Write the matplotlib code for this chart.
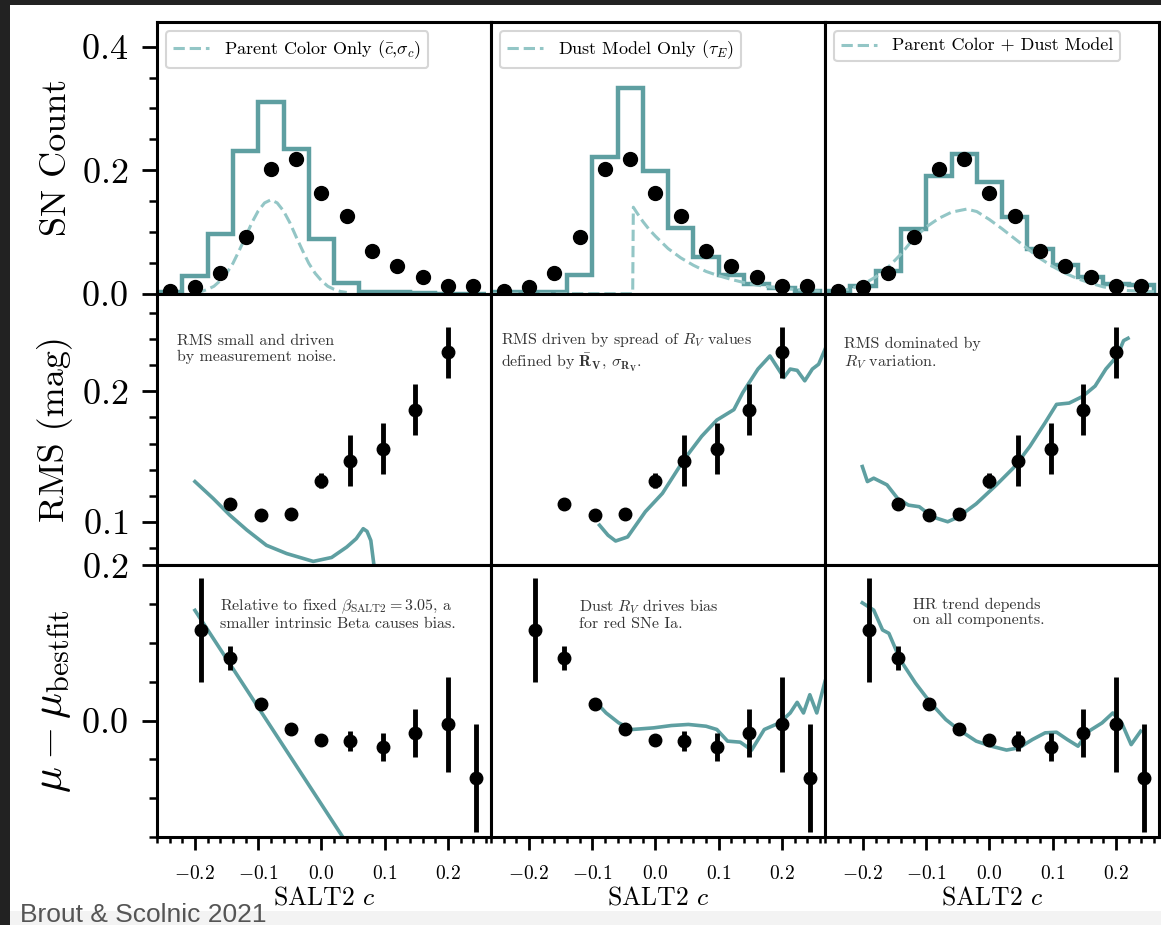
"""
plot.py -- salin ulang figur Brout & Scolnic 2021 (SALT2 c: count / RMS / HR)
3 kolom model x 3 baris panel, data titik sama di tiap kolom.
"""

import matplotlib
matplotlib.use("Agg")
import matplotlib.pyplot as plt
from matplotlib.patches import Rectangle
from matplotlib.ticker import MultipleLocator

plt.rcParams["font.family"] = "serif"
plt.rcParams["font.serif"] = ["cmr10"]
plt.rcParams["mathtext.fontset"] = "cm"
plt.rcParams["axes.formatter.use_mathtext"] = True

TEAL = "#5e9fa1"
TEAL_LIGHT = "#93c6c6"

# ---- baris 1: distribusi warna ----
BIN_EDGES = [-0.26, -0.22, -0.18, -0.14, -0.10, -0.06, -0.02, 0.02, 0.06, 0.10, 0.14, 0.18, 0.22, 0.26]
BIN_C = [-0.24, -0.20, -0.16, -0.12, -0.08, -0.04, 0.0, 0.04, 0.08, 0.12, 0.16, 0.20, 0.24]
COUNT = [0.004, 0.01, 0.034, 0.092, 0.202, 0.218, 0.163, 0.126, 0.069, 0.044, 0.027, 0.012, 0.012]
COUNT_ERR = [0.003, 0.004, 0.005, 0.007, 0.01, 0.01, 0.008, 0.007, 0.006, 0.005, 0.004, 0.003, 0.003]

HIST_PARENT = [0.003, 0.029, 0.097, 0.231, 0.31, 0.235, 0.089, 0.018, 0.003, 0.002, 0.001, 0.0, 0.0]
HIST_DUST = [0.002, 0.002, 0.002, 0.03, 0.222, 0.333, 0.198, 0.106, 0.059, 0.031, 0.016, 0.009, 0.005]
HIST_BOTH = [0.005, 0.012, 0.037, 0.104, 0.19, 0.226, 0.181, 0.124, 0.073, 0.046, 0.027, 0.016, 0.014]

PARENT_X = [-0.20, -0.19, -0.18, -0.17, -0.16, -0.15, -0.14, -0.13, -0.12, -0.11, -0.10, -0.09, -0.08,
            -0.07, -0.06, -0.05, -0.04, -0.03, -0.02, -0.01, 0.00, 0.01, 0.02, 0.03, 0.04]
PARENT_Y = [0.002, 0.0035, 0.007, 0.012, 0.021, 0.033, 0.049, 0.070, 0.092, 0.115, 0.134, 0.147, 0.152,
            0.147, 0.134, 0.115, 0.092, 0.070, 0.049, 0.033, 0.021, 0.012, 0.007, 0.0035, 0.002]

DUST_X = [-0.26, -0.036, -0.035, -0.03, -0.02, -0.01, 0.0, 0.02, 0.04, 0.06, 0.08, 0.10, 0.12,
          0.14, 0.16, 0.18, 0.20, 0.22, 0.24, 0.26]
DUST_Y = [0.0, 0.0, 0.14, 0.132, 0.117, 0.104, 0.093, 0.073, 0.058, 0.046, 0.036, 0.029, 0.023,
          0.018, 0.014, 0.011, 0.009, 0.007, 0.0055, 0.004]

BOTH_X = [-0.24, -0.22, -0.20, -0.18, -0.16, -0.14, -0.12, -0.10, -0.08, -0.06, -0.036, -0.02,
          0.0, 0.02, 0.04, 0.06, 0.08, 0.10, 0.12, 0.14, 0.16, 0.18, 0.20, 0.22, 0.24, 0.26]
BOTH_Y = [0.003, 0.008, 0.015, 0.027, 0.043, 0.064, 0.089, 0.108, 0.122, 0.132, 0.137, 0.133,
          0.12, 0.105, 0.089, 0.073, 0.057, 0.044, 0.033, 0.024, 0.017, 0.011, 0.007, 0.005, 0.004, 0.003]

# ---- baris 2: RMS ----
RMS_C = [-0.145, -0.095, -0.048, 0.0, 0.045, 0.097, 0.148, 0.2]
RMS = [0.1136, 0.1054, 0.1062, 0.1318, 0.147, 0.156, 0.186, 0.2297]
RMS_ERR = [0.0045, 0.002, 0.002, 0.006, 0.0196, 0.0195, 0.0195, 0.0195]

RMS_PARENT_X = [-0.2, -0.171, -0.145, -0.118, -0.087, -0.055, -0.013, 0.016, 0.04, 0.055, 0.066,
                0.072, 0.078, 0.083, 0.086]
RMS_PARENT_Y = [0.131, 0.118, 0.1054, 0.094, 0.0823, 0.076, 0.070, 0.073, 0.081, 0.0874, 0.095,
                0.093, 0.086, 0.067, 0.05]

RMS_DUST_X = [-0.0885, -0.075, -0.063, -0.044, -0.016, 0.011, 0.045, 0.073, 0.097, 0.124, 0.138,
              0.162, 0.181, 0.193, 0.203, 0.213, 0.224, 0.236, 0.248, 0.258, 0.268]
RMS_DUST_Y = [0.0977, 0.090, 0.0856, 0.0887, 0.108, 0.122, 0.1477, 0.1656, 0.178, 0.186, 0.199,
              0.217, 0.227, 0.218, 0.2105, 0.217, 0.216, 0.208, 0.217, 0.2207, 0.232]

RMS_BOTH_X = [-0.201, -0.193, -0.183, -0.162, -0.145, -0.128, -0.111, -0.09, -0.066, -0.049, -0.021,
              0.01, 0.04, 0.064, 0.088, 0.106, 0.126, 0.147, 0.167, 0.184, 0.202, 0.212, 0.219]
RMS_BOTH_Y = [0.1425, 0.131, 0.1336, 0.1285, 0.118, 0.113, 0.1118, 0.104, 0.1003, 0.104, 0.114,
              0.128, 0.1425, 0.158, 0.176, 0.19, 0.191, 0.196, 0.204, 0.217, 0.227, 0.2387, 0.2405]

# ---- baris 3: Hubble residual ----
HR_C = [-0.19, -0.145, -0.095, -0.048, 0.0, 0.045, 0.097, 0.148, 0.2, 0.245]
HR = [0.1167, 0.0803, 0.0218, -0.0107, -0.0256, -0.0265, -0.034, -0.0158, -0.005, -0.0735]
HR_ERR = [0.0673, 0.0152, 0.004, 0.002, 0.004, 0.0128, 0.018, 0.0305, 0.061, 0.0695]

HR_PARENT_X = [-0.2, 0.05]
HR_PARENT_Y = [0.142, -0.1705]

HR_DUST_X = [-0.0954, -0.078, -0.058, -0.037, -0.003, 0.025, 0.052, 0.08, 0.097, 0.114, 0.134,
             0.152, 0.172, 0.196, 0.213, 0.224, 0.234, 0.244, 0.255, 0.268]
HR_DUST_Y = [0.0248, 0.0098, -0.003, -0.0115, -0.0094, -0.0064, -0.005, -0.0073, -0.0115, -0.0265,
             -0.0278, -0.038, -0.0115, -0.003, 0.0098, 0.0235, 0.0098, 0.0333, 0.0098, 0.0504]

HR_BOTH_X = [-0.201, -0.183, -0.169, -0.159, -0.141, -0.117, -0.093, -0.069, -0.049, -0.021, 0.003,
             0.027, 0.047, 0.068, 0.088, 0.106, 0.123, 0.14, 0.157, 0.178, 0.195, 0.209, 0.224, 0.239]
HR_BOTH_Y = [0.1517, 0.1423, 0.1167, 0.1124, 0.0782, 0.0483, 0.0227, 0.0013, -0.0115, -0.0265, -0.033,
             -0.038, -0.035, -0.0244, -0.0158, -0.015, -0.0244, -0.033, -0.0137, -0.003, 0.0098, -0.003,
             -0.031, -0.0137]

LEGEND_LABELS = [r"Parent Color Only ($\bar{c}$,$\sigma_c$)",
                 r"Dust Model Only ($\tau_E$)",
                 "Parent Color + Dust Model"]
RMS_NOTES = ["RMS small and driven\nby measurement noise.",
             "RMS driven by spread of $R_V$ values\n"
             r"defined by $\bar{\mathbf{R}}_\mathbf{V}$, $\sigma_{\mathbf{R_V}}$.",
             "RMS dominated by\n$R_V$ variation."]
HR_NOTES = [r"Relative to fixed $\beta_{\rm SALT2} = 3.05$, a" "\nsmaller intrinsic Beta causes bias.",
            "Dust $R_V$ drives bias\nfor red SNe Ia.",
            "HR trend depends\non all components."]
RMS_NOTE_POS = [(0.06, 0.85), (0.03, 0.865), (0.057, 0.84)]
HR_NOTE_POS = [(0.19, 0.885), (0.263, 0.882), (0.263, 0.882)]


def gaya_sumbu(ax, row, col):
    for s in ax.spines.values():
        s.set_linewidth(2.2)
    ax.set_xlim(-0.26, 0.268)
    ax.xaxis.set_major_locator(MultipleLocator(0.1))
    ax.xaxis.set_minor_locator(MultipleLocator(0.02))
    if row == 0:
        ax.set_ylim(0, 0.44)
        ax.yaxis.set_major_locator(MultipleLocator(0.2))
        ax.yaxis.set_minor_locator(MultipleLocator(0.05))
    elif row == 1:
        ax.set_ylim(0.067, 0.2746)
        ax.yaxis.set_major_locator(MultipleLocator(0.1))
        ax.yaxis.set_minor_locator(MultipleLocator(0.02))
    else:
        ax.set_ylim(-0.15, 0.2)
        ax.yaxis.set_major_locator(MultipleLocator(0.2))
        ax.yaxis.set_minor_locator(MultipleLocator(0.05))

    ax.tick_params(top=False, right=False, which="both")
    if col == 0:
        ax.tick_params(axis="y", which="major", direction="out", length=11, width=2, labelsize=26, pad=10)
        ax.tick_params(axis="y", which="minor", direction="out", length=5.5, width=1.8)
        ax.yaxis.set_label_coords(-0.25, 0.5)
    else:
        ax.tick_params(axis="y", which="both", left=False, labelleft=False)
    if row == 2:
        ax.tick_params(axis="x", which="major", direction="out", length=9.5, width=2, labelsize=14, pad=11)
        ax.tick_params(axis="x", which="minor", direction="out", length=4.5, width=1.8)
        ax.set_xlabel("SALT2 $c$", fontsize=18.5, labelpad=2)
    else:
        ax.tick_params(axis="x", which="both", bottom=False, labelbottom=False)


def main():
    fig = plt.figure(figsize=(11.61, 9.25), dpi=100)
    gs = fig.add_gridspec(3, 3, left=157 / 1161, right=1159 / 1161, top=1 - 22 / 925,
                          bottom=1 - 837 / 925, wspace=0, hspace=0)

    hists = [HIST_PARENT, HIST_DUST, HIST_BOTH]
    dashes = [(PARENT_X, PARENT_Y), (DUST_X, DUST_Y), (BOTH_X, BOTH_Y)]
    rms_model = [(RMS_PARENT_X, RMS_PARENT_Y), (RMS_DUST_X, RMS_DUST_Y), (RMS_BOTH_X, RMS_BOTH_Y)]
    hr_model = [(HR_PARENT_X, HR_PARENT_Y), (HR_DUST_X, HR_DUST_Y), (HR_BOTH_X, HR_BOTH_Y)]

    for j in range(3):
        # baris 1
        ax = fig.add_subplot(gs[0, j])
        ax.stairs(hists[j], BIN_EDGES, color=TEAL, lw=3.2, zorder=2)
        ax.plot(dashes[j][0], dashes[j][1], ls="--", color=TEAL_LIGHT, lw=2.2, label=LEGEND_LABELS[j], zorder=2)
        ax.errorbar(BIN_C, COUNT, yerr=COUNT_ERR, fmt="o", color="k", ms=10, elinewidth=2, capsize=0, zorder=3)
        leg = ax.legend(loc="upper left", fontsize=13, handlelength=2, framealpha=1, edgecolor="#d6d6d6")
        leg.get_frame().set_linewidth(1.5)
        gaya_sumbu(ax, 0, j)
        if j == 0:
            ax.set_ylabel("SN Count", fontsize=26)

        # baris 2
        ax = fig.add_subplot(gs[1, j])
        ax.plot(rms_model[j][0], rms_model[j][1], color=TEAL, lw=2.6, zorder=2)
        ax.errorbar(RMS_C, RMS, yerr=RMS_ERR, fmt="o", color="k", ms=9, elinewidth=3.5, capsize=0, zorder=3)
        ax.text(RMS_NOTE_POS[j][0], RMS_NOTE_POS[j][1], RMS_NOTES[j], transform=ax.transAxes,
                fontsize=11.5, va="top", ha="left", color="#333333", linespacing=1.15)
        gaya_sumbu(ax, 1, j)
        if j == 0:
            ax.set_ylabel("RMS (mag)", fontsize=26)

        # baris 3
        ax = fig.add_subplot(gs[2, j])
        ax.plot(hr_model[j][0], hr_model[j][1], color=TEAL, lw=2.6, zorder=2)
        ax.errorbar(HR_C, HR, yerr=HR_ERR, fmt="o", color="k", ms=9, elinewidth=3.5, capsize=0, zorder=3)
        ax.text(HR_NOTE_POS[j][0], HR_NOTE_POS[j][1], HR_NOTES[j], transform=ax.transAxes,
                fontsize=11.5, va="top", ha="left", color="#333333", linespacing=1.15)
        gaya_sumbu(ax, 2, j)
        if j == 0:
            ax.set_ylabel(r"$\mu - \mu_{\rm bestfit}$", fontsize=31)

    # bingkai screenshot
    fig.patches.append(Rectangle((0, 1 - 5 / 925), 1, 5 / 925, transform=fig.transFigure,
                                 facecolor="#222222", edgecolor="none"))
    fig.patches.append(Rectangle((0, 0), 10 / 1161, 1, transform=fig.transFigure,
                                 facecolor="#222222", edgecolor="none"))
    fig.patches.append(Rectangle((10 / 1161, 0), 1, 14 / 925, transform=fig.transFigure,
                                 facecolor="#f3f3f3", edgecolor="none"))
    fig.text(20 / 1161, 3 / 925, "Brout & Scolnic 2021", fontsize=19, color="#555555",
             family=["Liberation Sans", "DejaVu Sans"], va="baseline", ha="left")

    fig.savefig("out.png", dpi=100)
    plt.close(fig)


if __name__ == "__main__":
    main()
